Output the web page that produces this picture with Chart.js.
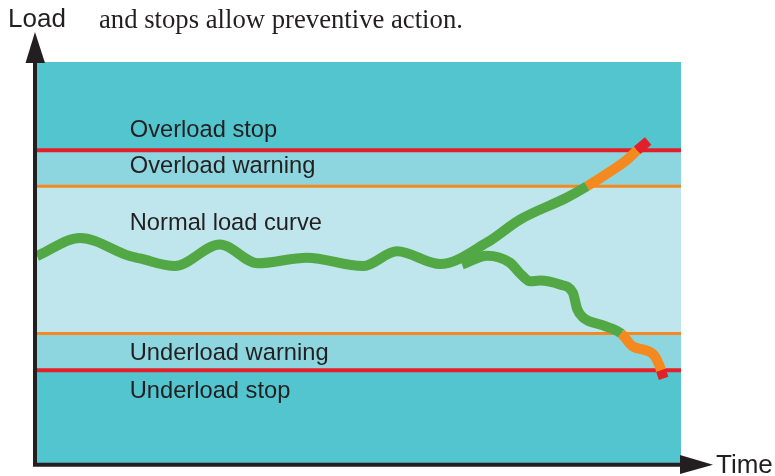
<!DOCTYPE html>
<html lang="en">
  <head>
    <meta charset="UTF-8" />
    <title>Load limits</title>
    <script src="https://cdn.jsdelivr.net/npm/chart.js"></script>
    <style>
      body { margin: 0; background: #fff; }
    </style>
  </head>
  <body>
    <canvas id="loadChart" width="775" height="476"></canvas>

    <script>
      // limits on the load scale (0-100)
      const overloadStop = 78;
      const overloadWarning = 69;
      const underloadWarning = 32.3;
      const underloadStop = 23.1;

      // normal curve, then the branch that rises into overload
      const riseTime = [0, 6.7, 14.4, 16, 21.4, 28.4, 34.3, 41.9, 50.6, 55.9, 62.6, 69.9, 75.0, 82.3, 85.4, 89.4, 91.6, 93.2, 94.9];
      const riseLoad = [51.6, 56.1, 51.6, 51.0, 49.1, 54.5, 49.8, 51.2, 49.1, 52.8, 49.6, 55.0, 60.7, 66.2, 69.0, 73.1, 75.6, 78.0, 80.3];

      // branch that falls into underload
      const dropTime = [66.0, 69.9, 73.4, 75.0, 76.6, 78.1, 81.2, 83.2, 83.9, 84.8, 87.9, 90.7, 92.5, 95.7, 96.7, 96.9, 97.3];
      const dropLoad = [49.5, 51.7, 50.0, 47.3, 45.3, 45.5, 44.5, 42.5, 38.3, 36.3, 34.3, 32.3, 29.1, 27.1, 24.1, 23.1, 21.1];

      const bandLabels = ["Overload stop", "Overload warning", "Normal load curve", "Underload warning", "Underload stop"];
      const bandLabelLoad = [81.3, 72.4, 58.2, 25.6, 16.2];
      const bandLabelTime = 14.4;

      const colors = {
        dark: "#53c5cf",
        mid: "#8ed6df",
        light: "#bfe6ec",
        red: "#e3202a",
        orange: "#f4891f",
        green: "#53a846",
        ink: "#231f20",
      };

      const pts = (xs, ys) => xs.map((x, i) => ({ x: x, y: ys[i] }));
      const flat = (y) => [{ x: 0, y: y }, { x: 100, y: y }];

      function segColor(ctx) {
        const hi = Math.max(ctx.p0.parsed.y, ctx.p1.parsed.y);
        const lo = Math.min(ctx.p0.parsed.y, ctx.p1.parsed.y);
        if (hi > overloadStop + 0.01 || lo < underloadStop - 0.01) return colors.red;
        if (hi > overloadWarning + 0.01 || lo < underloadWarning - 0.01) return colors.orange;
        return colors.green;
      }

      const bandBase = { borderWidth: 0, pointRadius: 0 };
      const curveBase = {
        borderWidth: 10,
        pointRadius: 0,
        cubicInterpolationMode: "monotone",
        fill: false,
        borderCapStyle: "butt",
        segment: { borderColor: segColor },
        order: 1,
      };

      const labelsPlugin = {
        id: "labels",
        afterDraw(chart) {
          const { ctx, chartArea: a, scales } = chart;
          ctx.save();
          ctx.fillStyle = colors.ink;
          ctx.strokeStyle = colors.ink;

          // axes with arrow heads
          ctx.lineWidth = 4;
          ctx.beginPath();
          ctx.moveTo(a.left - 2, a.bottom + 3.5);
          ctx.lineTo(a.left - 2, a.top + 1);
          ctx.moveTo(a.left - 4, a.bottom + 1.8);
          ctx.lineTo(a.right, a.bottom + 1.8);
          ctx.stroke();
          ctx.beginPath();
          ctx.moveTo(a.left - 11.5, a.top + 1);
          ctx.lineTo(a.left + 8, a.top + 1);
          ctx.lineTo(a.left - 2, a.top - 30);
          ctx.closePath();
          ctx.fill();
          ctx.beginPath();
          ctx.moveTo(a.right - 1, a.bottom - 8);
          ctx.lineTo(a.right - 1, a.bottom + 11);
          ctx.lineTo(a.right + 32, a.bottom + 1.8);
          ctx.closePath();
          ctx.fill();

          ctx.textBaseline = "alphabetic";
          ctx.textAlign = "left";
          ctx.font = "26px 'Liberation Sans', Arial, sans-serif";
          ctx.fillText("Load", 8, 27);
          ctx.fillText("Time", 716, 473);

          ctx.font = "23.7px 'Liberation Sans', Arial, sans-serif";
          bandLabels.forEach((t, i) => {
            ctx.fillText(t, scales.x.getPixelForValue(bandLabelTime), scales.y.getPixelForValue(bandLabelLoad[i]));
          });

          ctx.font = "26.7px 'Liberation Serif', 'Times New Roman', serif";
          ctx.fillText("and stops allow preventive action.", 99, 28);
          ctx.restore();
        },
      };

      new Chart(document.getElementById("loadChart"), {
        type: "line",
        data: {
          datasets: [
            { ...bandBase, data: flat(100), fill: { value: 0 }, backgroundColor: colors.dark, order: 10 },
            { ...bandBase, data: flat(overloadStop), fill: { value: underloadStop }, backgroundColor: colors.mid, order: 9 },
            { ...bandBase, data: flat(overloadWarning), fill: { value: underloadWarning }, backgroundColor: colors.light, order: 8 },
            { data: flat(overloadStop), borderColor: colors.red, borderWidth: 4, pointRadius: 0, fill: false, order: 5 },
            { data: flat(underloadStop), borderColor: colors.red, borderWidth: 4, pointRadius: 0, fill: false, order: 5 },
            { data: flat(overloadWarning), borderColor: colors.orange, borderWidth: 3, pointRadius: 0, fill: false, order: 5 },
            { data: flat(underloadWarning), borderColor: colors.orange, borderWidth: 3, pointRadius: 0, fill: false, order: 5 },
            { ...curveBase, data: pts(riseTime, riseLoad) },
            { ...curveBase, data: pts(dropTime, dropLoad) },
          ],
        },
        options: {
          responsive: false,
          animation: false,
          devicePixelRatio: 1,
          layout: { padding: { left: 37, right: 94, top: 62, bottom: 13 } },
          plugins: { legend: { display: false }, tooltip: { enabled: false } },
          scales: {
            x: { type: "linear", min: 0, max: 100, display: false },
            y: { min: 0, max: 100, display: false },
          },
        },
        plugins: [labelsPlugin],
      });
    </script>
  </body>
</html>
